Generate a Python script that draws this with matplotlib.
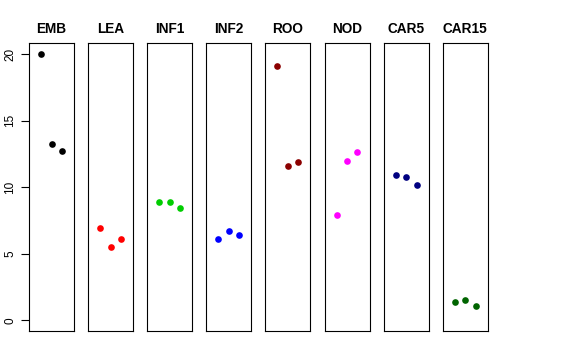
import matplotlib
matplotlib.use("Agg")
import matplotlib.pyplot as plt

plt.rcParams['font.family'] = ['Liberation Sans', 'DejaVu Sans']

# tissues and their three replicate values
tissues = ['EMB', 'LEA', 'INF1', 'INF2', 'ROO', 'NOD', 'CAR5', 'CAR15']
emb = [20.05, 13.28, 12.70]
lea = [6.96, 5.49, 6.14]
inf1 = [8.89, 8.89, 8.42]
inf2 = [6.14, 6.71, 6.41]
roo = [19.14, 11.62, 11.88]
nod = [7.94, 11.98, 12.65]
car5 = [10.90, 10.75, 10.17]
car15 = [1.40, 1.50, 1.10]
colors = ['black', 'red', '#00CD00', 'blue', '#8B0000', 'magenta', '#000080', '#006400']
yticks = [0, 5, 10, 15, 20]

series = [emb, lea, inf1, inf2, roo, nod, car5, car15]
reps = [1, 2, 3]

W, H = 576, 360
fig = plt.figure(figsize=(W / 100, H / 100), dpi=100)

left, bottom, pw, ph, step = 29, 29, 45, 288, 59.1
for i, (name, vals, col) in enumerate(zip(tissues, series, colors)):
    ax = fig.add_axes([(left + i * step) / W, bottom / H, pw / W, ph / H])
    ax.plot(reps, vals, 'o', color=col, markersize=4.8, markeredgewidth=0)
    ax.set_xlim(-0.16, 4.16)
    ax.set_ylim(-0.8, 20.85)
    ax.set_xticks([])
    ax.set_title(name, fontsize=9.8, fontweight='bold', pad=7)
    for s in ax.spines.values():
        s.set_linewidth(0.8)
    if i == 0:
        ax.set_yticks(yticks)
        ax.set_yticklabels([str(t) for t in yticks], rotation=90, va='center', fontsize=8.5)
        ax.tick_params(axis='y', length=6, width=0.8, pad=3)
    else:
        ax.set_yticks([])

fig.savefig('out.png', dpi=100)
